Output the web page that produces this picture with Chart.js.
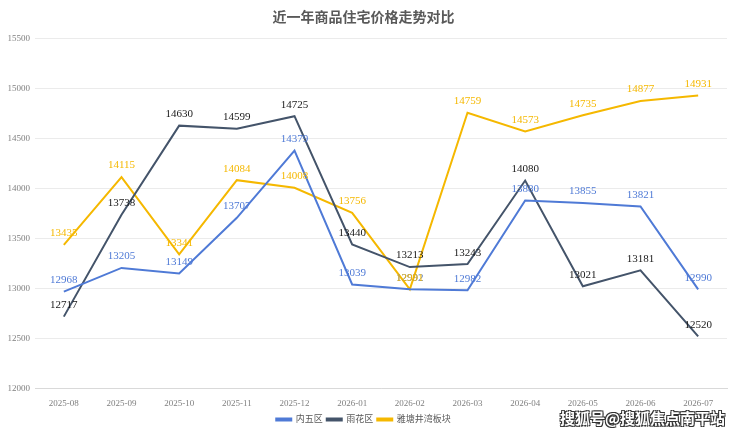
<!DOCTYPE html>
<html>
<head>
<meta charset="utf-8">
<script src="https://cdn.jsdelivr.net/npm/chart.js@4.4.1/dist/chart.umd.min.js"></script>
<style>
  html, body { margin: 0; padding: 0; background: #fff; }
  #wrap { position: relative; width: 740px; height: 434px; }
  #mark {
    position: absolute; right: 15px; bottom: 6px;
    font: bold 15px "Noto Sans CJK SC", sans-serif;
    color: #fff;
    text-shadow: -1px -1px 0 #333, 1px -1px 0 #333, -1px 1px 0 #333, 1px 1px 0 #333;
  }
</style>
</head>
<body>
<div id="wrap">
  <canvas id="priceChart" width="740" height="434"></canvas>
  <div id="mark">搜狐号@搜狐焦点南平站</div>
</div>
<script>
const months = ["2025-08", "2025-09", "2025-10", "2025-11", "2025-12", "2026-01",
                "2026-02", "2026-03", "2026-04", "2026-05", "2026-06", "2026-07"];
const neiWu = [12968, 13205, 13149, 13707, 14379, 13039, 12992, 12982, 13880, 13855, 13821, 12990];
const yuHua = [12717, 13738, 14630, 14599, 14725, 13440, 13213, 13243, 14080, 13021, 13181, 12520];
const yaTang = [13435, 14115, 13341, 14084, 14008, 13756, 12991, 14759, 14573, 14735, 14877, 14931];

const serif = '"Liberation Serif", "Noto Sans CJK SC", serif';

// draw each value just above its point
const pointLabels = {
    id: "pointLabels",
    afterDatasetsDraw(chart) {
        const ctx = chart.ctx;
        ctx.save();
        ctx.font = "11px " + serif;
        ctx.textAlign = "center";
        ctx.textBaseline = "bottom";
        chart.data.datasets.forEach((ds, i) => {
            const meta = chart.getDatasetMeta(i);
            ctx.fillStyle = ds.labelColor;
            meta.data.forEach((pt, j) => {
                ctx.fillText(ds.data[j], pt.x, pt.y - 6);
            });
        });
        ctx.restore();
    }
};

new Chart(document.getElementById("priceChart"), {
    type: "line",
    data: {
        labels: months,
        datasets: [
            { label: "内五区", data: neiWu, borderColor: "#4F7AD6", labelColor: "#4F7AD6" },
            { label: "雨花区", data: yuHua, borderColor: "#44546A", labelColor: "#1a1a1a" },
            { label: "雅塘井湾板块", data: yaTang, borderColor: "#F5B800", labelColor: "#F5B800" }
        ].map(d => Object.assign(d, { borderWidth: 2, pointRadius: 0, tension: 0, fill: false }))
    },
    options: {
        responsive: false,
        animation: false,
        layout: { padding: { left: 0, right: 13, top: 8, bottom: 0 } },
        plugins: {
            title: {
                display: true,
                text: "近一年商品住宅价格走势对比",
                color: "#595959",
                font: { family: serif, size: 14, weight: "bold" },
                padding: { top: 2, bottom: 12 }
            },
            legend: {
                position: "bottom",
                labels: {
                    boxWidth: 15, boxHeight: 2, padding: 4,
                    color: "#595959",
                    font: { family: serif, size: 9 }
                }
            },
            tooltip: { enabled: false }
        },
        scales: {
            x: {
                offset: true,
                grid: { display: false },
                border: { color: "#d9d9d9" },
                ticks: { color: "#7f7f7f", font: { family: serif, size: 9 }, maxRotation: 0, padding: 2 }
            },
            y: {
                min: 12000, max: 15500,
                afterFit(s) { s.width = 35; },
                grid: { color: "#ebebeb", drawTicks: false },
                border: { display: false },
                ticks: {
                    stepSize: 500, color: "#7f7f7f", padding: 5,
                    font: { family: serif, size: 9 },
                    callback: v => String(v)
                }
            }
        }
    },
    plugins: [pointLabels]
});
</script>
</body>
</html>
